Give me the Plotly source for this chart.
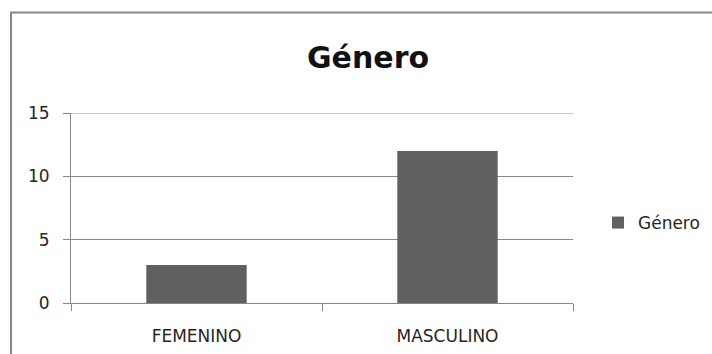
import plotly.graph_objects as go

categories = ["FEMENINO", "MASCULINO"]
values = [3, 12]
series_name = "Género"
title_text = "Género"
y_ticks = [0, 5, 10, 15]

GRAY = "#868686"
BAR = "#606060"
FONT = "DejaVu Sans"

fig = go.Figure()
fig.add_trace(go.Bar(x=categories, y=values, name=series_name,
                     marker=dict(color=BAR, line=dict(width=0)), width=0.4))

# plot area pixels: x 71..573, y 113..303
L, R, T, B = 71, 139, 113, 51
W, H = 712 - L - R, 354 - T - B

fig.update_layout(
    width=712, height=354,
    margin=dict(l=L, r=R, t=T, b=B, autoexpand=False),
    paper_bgcolor="white", plot_bgcolor="white",
    font=dict(family=FONT, size=17, color="#262626"),
    title=dict(text=title_text, font=dict(family=FONT, size=30, color="#111", weight="bold"),
               x=368/712, xanchor="center", xref="container",
               y=1 - 57.5/354, yanchor="middle", yref="container"),
    showlegend=True,
    legend=dict(x=(598 - L)/W, xanchor="left", y=(303 - 223)/H, yanchor="middle",
                font=dict(family=FONT, size=17, color="#262626"), bgcolor="rgba(0,0,0,0)",
                borderwidth=0),
    bargap=0.6,
    xaxis=dict(type="category", showline=True, linecolor=GRAY, linewidth=1,
               ticks="outside", tickson="boundaries", ticklen=7, tickcolor=GRAY,
               showgrid=False, ticklabelstandoff=18, automargin=False),
    yaxis=dict(range=[0, y_ticks[-1]], tickvals=y_ticks, showline=True, linecolor=GRAY, linewidth=1,
               ticks="outside", ticklen=7, tickcolor=GRAY, showgrid=True, gridcolor=GRAY,
               gridwidth=1, zeroline=False, ticklabelstandoff=10, automargin=False),
    shapes=[dict(type="rect", xref="paper", yref="paper",
                 x0=(11 - L)/W, x1=(760 - L)/W, y0=(303 - 400)/H, y1=(303 - 12.5)/H,
                 line=dict(color=GRAY, width=2), fillcolor="rgba(0,0,0,0)", layer="below"),
            dict(type="line", xref="paper", yref="y", x0=0, x1=1,
                 y0=y_ticks[-1], y1=y_ticks[-1], line=dict(color=GRAY, width=1))],
)

fig.write_html("out.html")
